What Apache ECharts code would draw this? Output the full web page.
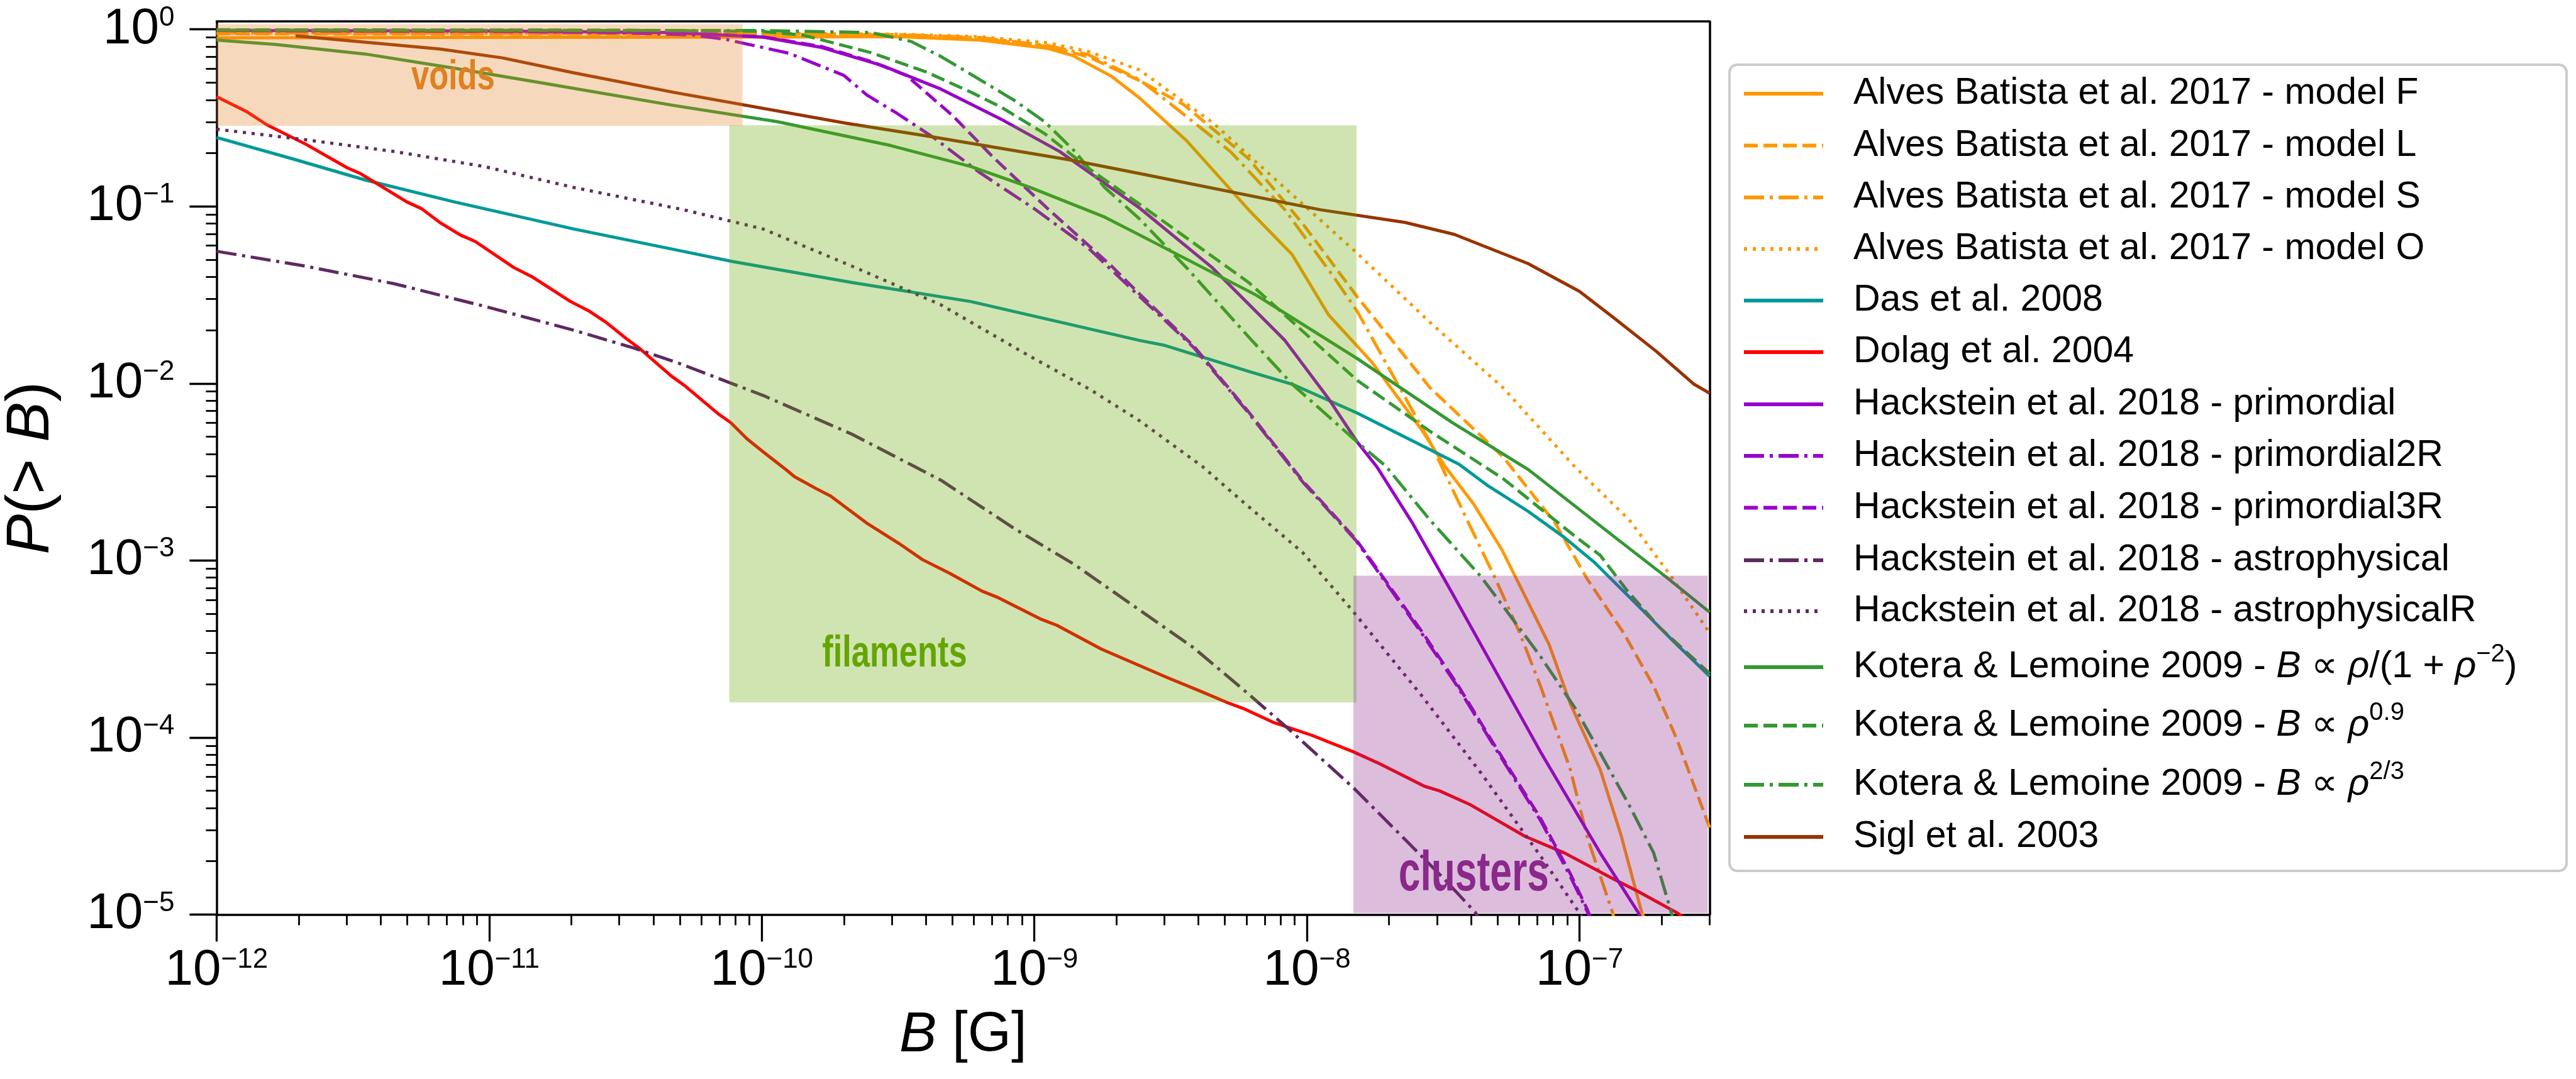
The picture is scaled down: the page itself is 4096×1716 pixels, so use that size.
<!DOCTYPE html>
<html><head><meta charset="utf-8">
<script src="https://cdn.jsdelivr.net/npm/echarts@6/dist/echarts.min.js"></script>
<style>html,body{margin:0;padding:0;background:#fff}#c{width:4096px;height:1716px}</style>
</head><body><div id="c"></div>
<script>
// ---------------- data (B in gauss, P(>B)) ----------------
const alvesF_B = [1e-12, 1e-11, 1e-10, 3.16e-10, 6.31e-10, 1.12e-9, 1.38e-9, 1.92e-9, 2.43e-9, 3.62e-9, 6.11e-9, 8.81e-9, 1.20e-8, 1.73e-8, 2.66e-8, 3.21e-8, 4.09e-8, 5.19e-8, 7.74e-8, 9.25e-8, 1.19e-7, 1.42e-7, 1.69e-7, 1.82e-7];
const alvesF_P = [0.895, 0.9, 0.905, 0.91, 0.87, 0.78, 0.713, 0.543, 0.41, 0.235, 0.0957, 0.0536, 0.0244, 0.0132, 0.00536, 0.0034, 0.00208, 0.00115, 3.34e-4, 1.55e-4, 6.6e-5, 2.8e-5, 1.03e-5, 8e-6];
const alvesL_B = [1e-12, 1e-11, 1e-10, 3.16e-10, 6.31e-10, 1.12e-9, 1.58e-9, 2.43e-9, 3.52e-9, 6.11e-9, 9.68e-9, 1.53e-8, 2.83e-8, 5.24e-8, 8.13e-8, 1.07e-7, 1.45e-7, 1.87e-7, 2.28e-7, 3.0e-7];
const alvesL_P = [0.945, 0.94, 0.94, 0.93, 0.89, 0.8, 0.7, 0.513, 0.377, 0.186, 0.0793, 0.0308, 0.00945, 0.00385, 0.00163, 7.8e-4, 3.9e-4, 1.95e-4, 9.7e-5, 3.1e-5];
const alvesS_B = [1e-12, 1e-11, 1e-10, 3.16e-10, 6.31e-10, 1.12e-9, 1.58e-9, 2.43e-9, 3.30e-9, 5.24e-9, 8.30e-9, 1.24e-8, 1.53e-8, 2.08e-8, 2.83e-8, 3.85e-8, 4.93e-8, 6.03e-8, 7.19e-8, 9.25e-8, 1.07e-7, 1.32e-7, 1.38e-7];
const alvesS_P = [0.955, 0.95, 0.945, 0.935, 0.9, 0.81, 0.72, 0.52, 0.36, 0.204, 0.0957, 0.0409, 0.0255, 0.0109, 0.00466, 0.00172, 7.8e-4, 3.9e-4, 1.95e-4, 6.6e-5, 2.7e-5, 1.03e-5, 8e-6];
const alvesO_B = [1e-12, 1e-11, 1e-10, 3.16e-10, 6.31e-10, 1.12e-9, 1.58e-9, 2.43e-9, 4.50e-9, 8.30e-9, 1.53e-8, 2.83e-8, 5.24e-8, 9.68e-8, 1.52e-7, 2.17e-7, 3.0e-7];
const alvesO_P = [0.96, 0.955, 0.95, 0.94, 0.91, 0.84, 0.75, 0.59, 0.298, 0.127, 0.0543, 0.0221, 0.00945, 0.00334, 0.0017, 8.1e-4, 3.9e-4];
const das_B = [1e-12, 1.87e-12, 3.51e-12, 7.45e-12, 2.04e-11, 5.13e-11, 7.83e-11, 2.14e-10, 5.85e-10, 2.43e-9, 3.01e-9, 6.11e-9, 8.83e-9, 1.53e-8, 3.61e-8, 4.62e-8, 6.49e-8, 8.79e-8, 1.13e-7, 1.69e-7, 2.22e-7, 3.0e-7];
const das_P = [0.245, 0.187, 0.141, 0.106, 0.0746, 0.0558, 0.0488, 0.0372, 0.029, 0.0175, 0.0164, 0.0117, 0.0099, 0.0068, 0.0035, 0.00264, 0.00189, 0.00135, 9.8e-4, 5.3e-4, 3.47e-4, 2.22e-4];
const dolag_B = [1e-12, 1.285e-12, 1.53e-12, 2.12e-12, 3.02e-12, 3.38e-12, 4.99e-12, 5.65e-12, 6.58e-12, 7.83e-12, 8.89e-12, 1.23e-11, 1.43e-11, 1.99e-11, 2.31e-11, 2.69e-11, 3.20e-11, 3.54e-11, 4.66e-11, 5.25e-11, 6.90e-11, 7.69e-11, 8.83e-11, 1.03e-10, 1.23e-10, 1.32e-10, 1.58e-10, 1.79e-10, 2.42e-10, 3.18e-10, 3.89e-10, 4.89e-10, 6.43e-10, 7.29e-10, 1.06e-9, 1.21e-9, 1.76e-9, 3.05e-9, 4.02e-9, 5.18e-9, 5.83e-9, 7.50e-9, 1.04e-8, 1.48e-8, 1.85e-8, 2.70e-8, 3.06e-8, 3.94e-8, 6.32e-8, 8.79e-8, 1.32e-7, 1.64e-7, 2.31e-7, 2.51e-7];
const dolag_P = [0.417, 0.344, 0.289, 0.225, 0.165, 0.153, 0.106, 0.0971, 0.0813, 0.069, 0.0634, 0.0452, 0.0402, 0.029, 0.0258, 0.0221, 0.0178, 0.0159, 0.011, 0.00964, 0.00676, 0.00601, 0.00486, 0.00402, 0.00325, 0.00297, 0.00255, 0.00231, 0.00163, 0.00125, 0.00101, 8.46e-4, 6.71e-4, 6.21e-4, 4.65e-4, 4.3e-4, 3.16e-4, 2.19e-4, 1.84e-4, 1.56e-4, 1.46e-4, 1.22e-4, 1.03e-4, 8.3e-5, 7.1e-5, 5.3e-5, 5.0e-5, 4.2e-5, 2.76e-5, 2.23e-5, 1.6e-5, 1.35e-5, 1.01e-5, 9e-6];
const hPrim_B = [1e-12, 1e-11, 4.74e-11, 1.01e-10, 1.66e-10, 2.75e-10, 4.54e-10, 7.52e-10, 1.24e-9, 2.43e-9, 4.50e-9, 8.30e-9, 1.20e-8, 1.53e-8, 1.80e-8, 2.43e-8, 3.38e-8, 7.19e-8, 1.19e-7, 1.64e-7, 1.74e-7];
const hPrim_P = [0.985, 0.98, 0.959, 0.904, 0.79, 0.627, 0.46, 0.312, 0.204, 0.098, 0.045, 0.0175, 0.0082, 0.00466, 0.0034, 0.00164, 6.7e-4, 8.3e-5, 2.23e-5, 1.03e-5, 8.5e-6];
const hPrim2R_B = [1e-12, 1e-11, 3.16e-11, 5.62e-11, 7.35e-11, 1.26e-10, 2.0e-10, 2.43e-10, 3.12e-10, 4.22e-10, 6.31e-10, 1e-9, 1.58e-9, 2.43e-9, 3.85e-9, 6.11e-9, 9.68e-9, 1.51e-8, 2.63e-8, 3.56e-8, 4.93e-8, 7.19e-8, 9.25e-8, 1.07e-7, 1.12e-7];
const hPrim2R_P = [0.985, 0.975, 0.955, 0.93, 0.879, 0.733, 0.55, 0.426, 0.337, 0.248, 0.155, 0.097, 0.058, 0.031, 0.0159, 0.0068, 0.00276, 0.0013, 3.9e-4, 1.95e-4, 8.6e-5, 3.4e-5, 1.64e-5, 1.03e-5, 8.5e-6];
const hPrim3R_B = [1e-12, 1e-11, 4.74e-11, 1e-10, 1.66e-10, 2.51e-10, 3.39e-10, 5.01e-10, 7.05e-10, 1.12e-9, 1.92e-9, 2.43e-9, 3.85e-9, 6.11e-9, 9.68e-9, 1.51e-8, 2.63e-8, 3.56e-8, 4.93e-8, 7.19e-8, 9.25e-8, 1.07e-7, 1.12e-7];
const hPrim3R_P = [0.99, 0.98, 0.96, 0.91, 0.8, 0.66, 0.55, 0.326, 0.19, 0.097, 0.046, 0.032, 0.0162, 0.0069, 0.0028, 0.00132, 4.0e-4, 2.0e-4, 8.8e-5, 3.5e-5, 1.7e-5, 1.06e-5, 8.8e-6];
const hAstro_B = [1e-12, 2.12e-12, 4.51e-12, 9.59e-12, 2.04e-11, 3.37e-11, 4.90e-11, 1.01e-10, 2.14e-10, 4.54e-10, 8.47e-10, 1.40e-9, 2.32e-9, 3.83e-9, 5.83e-9, 8.49e-9, 1.48e-8, 2.32e-8, 3.21e-8, 4.14e-8, 4.37e-8];
const hAstro_P = [0.0558, 0.046, 0.0365, 0.0273, 0.02, 0.0159, 0.0131, 0.00856, 0.00517, 0.00284, 0.00151, 9.5e-4, 5.52e-4, 3.22e-4, 1.87e-4, 1.13e-4, 5.2e-5, 2.6e-5, 1.57e-5, 1.03e-5, 9e-6];
const hAstroR_B = [1e-12, 2.12e-12, 4.51e-12, 9.59e-12, 2.04e-11, 5.13e-11, 1.01e-10, 2.14e-10, 4.54e-10, 9.66e-10, 1.60e-9, 2.43e-9, 4.13e-9, 5.83e-9, 9.64e-9, 1.48e-8, 2.63e-8, 4.35e-8, 7.19e-8, 9.95e-8, 1.05e-7];
const hAstroR_P = [0.273, 0.238, 0.204, 0.168, 0.128, 0.096, 0.0746, 0.046, 0.0278, 0.0142, 0.00925, 0.00616, 0.0034, 0.00214, 0.00111, 5.13e-4, 1.73e-4, 6.3e-5, 2.14e-5, 1.03e-5, 9e-6];
const kotA_B = [1e-12, 1.65e-12, 3.51e-12, 7.45e-12, 1.58e-11, 4.74e-11, 1.14e-10, 2.96e-10, 5.85e-10, 9.66e-10, 1.81e-9, 2.43e-9, 6.50e-9, 1.53e-8, 3.40e-8, 6.49e-8, 1.35e-7, 2.07e-7, 3.0e-7];
const kotA_P = [0.87, 0.821, 0.726, 0.603, 0.497, 0.372, 0.301, 0.221, 0.168, 0.128, 0.0871, 0.069, 0.0316, 0.0138, 0.00603, 0.00326, 0.00135, 8.1e-4, 5.1e-4];
const kotB_B = [1e-12, 3.16e-11, 1e-10, 1.41e-10, 2.51e-10, 4.01e-10, 5.85e-10, 7.52e-10, 1.09e-9, 1.60e-9, 2.43e-9, 6.11e-9, 1.53e-8, 2.83e-8, 5.24e-8, 9.68e-8, 1.19e-7, 1.49e-7, 1.96e-7, 3.0e-7];
const kotB_P = [0.995, 0.99, 0.975, 0.93, 0.74, 0.575, 0.442, 0.365, 0.258, 0.162, 0.103, 0.0372, 0.0104, 0.00536, 0.0029, 0.00136, 0.00107, 6.8e-4, 4.2e-4, 2.3e-4];
const kotC_B = [1e-12, 1e-10, 2.51e-10, 3.53e-10, 4.54e-10, 5.85e-10, 8.51e-10, 1.09e-9, 1.41e-9, 1.81e-9, 2.43e-9, 3.62e-9, 6.11e-9, 8.83e-9, 1.53e-8, 1.95e-8, 2.82e-8, 4.35e-8, 7.19e-8, 9.73e-8, 1.52e-7, 1.87e-7, 2.17e-7, 2.24e-7];
const kotC_P = [0.99, 0.985, 0.96, 0.855, 0.703, 0.558, 0.394, 0.301, 0.204, 0.128, 0.085, 0.045, 0.0183, 0.0099, 0.00466, 0.0034, 0.0017, 8.1e-4, 2.87e-4, 1.43e-4, 4.15e-5, 2.23e-5, 1.03e-5, 8.5e-6];
const sigl_B = [1.95e-12, 6.61e-12, 1.12e-11, 2.04e-11, 4.79e-11, 2.04e-10, 4.17e-10, 1.38e-9, 2.45e-9, 1.12e-8, 2.29e-8, 3.47e-8, 6.46e-8, 1e-7, 1.32e-7, 1.91e-7, 2.63e-7, 3.0e-7];
const sigl_P = [0.92, 0.775, 0.69, 0.569, 0.44, 0.295, 0.248, 0.182, 0.153, 0.0957, 0.0812, 0.0695, 0.0476, 0.0331, 0.0238, 0.0152, 0.0099, 0.0088];

const seriesNames = [
  'Alves Batista et al. 2017 - model F', 'Alves Batista et al. 2017 - model L',
  'Alves Batista et al. 2017 - model S', 'Alves Batista et al. 2017 - model O',
  'Das et al. 2008', 'Dolag et al. 2004',
  'Hackstein et al. 2018 - primordial', 'Hackstein et al. 2018 - primordial2R',
  'Hackstein et al. 2018 - primordial3R', 'Hackstein et al. 2018 - astrophysical',
  'Hackstein et al. 2018 - astrophysicalR',
  'Kotera & Lemoine 2009 - B ∝ ρ/(1 + ρ^−2)', 'Kotera & Lemoine 2009 - B ∝ ρ^0.9',
  'Kotera & Lemoine 2009 - B ∝ ρ^2/3', 'Sigl et al. 2003'
];
const seriesB = [alvesF_B, alvesL_B, alvesS_B, alvesO_B, das_B, dolag_B, hPrim_B, hPrim2R_B, hPrim3R_B, hAstro_B, hAstroR_B, kotA_B, kotB_B, kotC_B, sigl_B];
const seriesP = [alvesF_P, alvesL_P, alvesS_P, alvesO_P, das_P, dolag_P, hPrim_P, hPrim2R_P, hPrim3R_P, hAstro_P, hAstroR_P, kotA_P, kotB_P, kotC_P, sigl_P];

// regions: [Bmin, Bmax, Pmin, Pmax]
const regionNames = ['voids', 'filaments', 'clusters'];
const regionBmin = [1e-12, 7.6e-11, 1.48e-8];
const regionBmax = [8.5e-11, 1.52e-8, 2.95e-7];
const regionPmin = [0.285, 1.58e-4, 1.02e-5];
const regionPmax = [1.07, 0.287, 8.2e-4];
const regionLabelB = [7.37e-12, 3.07e-10, 4.09e-8];
const regionLabelP = [0.442, 2.41e-4, 1.30e-5];

const xMajorTicks = [1e-12, 1e-11, 1e-10, 1e-9, 1e-8, 1e-7];
const xMinorTicks = [2e-12,3e-12,4e-12,5e-12,6e-12,7e-12,8e-12,9e-12, 2e-11,3e-11,4e-11,5e-11,6e-11,7e-11,8e-11,9e-11, 2e-10,3e-10,4e-10,5e-10,6e-10,7e-10,8e-10,9e-10, 2e-9,3e-9,4e-9,5e-9,6e-9,7e-9,8e-9,9e-9, 2e-8,3e-8,4e-8,5e-8,6e-8,7e-8,8e-8,9e-8, 2e-7,3e-7];
const yMajorTicks = [1e-5, 1e-4, 1e-3, 1e-2, 1e-1, 1];
const yMinorTicks = [2e-5,3e-5,4e-5,5e-5,6e-5,7e-5,8e-5,9e-5, 2e-4,3e-4,4e-4,5e-4,6e-4,7e-4,8e-4,9e-4, 2e-3,3e-3,4e-3,5e-3,6e-3,7e-3,8e-3,9e-3, 2e-2,3e-2,4e-2,5e-2,6e-2,7e-2,8e-2,9e-2, 0.2,0.3,0.4,0.5,0.6,0.7,0.8,0.9];

// ---------------- styles ----------------
const FONT = "'Liberation Sans', Arial, sans-serif";
const COL = { orange:'#ff9900', teal:'#009999', red:'#ff0000', violet:'#9900cc', plum:'#5e2a60', green:'#339933', brown:'#993300' };
const DASH = [22, 9], DASHDOT = [32, 9, 5, 9], DOT = [5, 9];
const seriesColor = [COL.orange, COL.orange, COL.orange, COL.orange, COL.teal, COL.red, COL.violet, COL.violet, COL.violet, COL.plum, COL.plum, COL.green, COL.green, COL.green, COL.brown];
const seriesDash = ['solid', DASH, DASHDOT, DOT, 'solid', 'solid', 'solid', DASHDOT, DASH, DASHDOT, DOT, 'solid', DASH, DASHDOT, 'solid'];
const regionFill = ['rgba(224,128,32,0.3)', 'rgba(100,166,0,0.3)', 'rgba(139,40,139,0.3)'];
const regionText = ['#e08020', '#64a600', '#8b288b'];
const regionFont = [66, 70, 89];
const regionScaleX = [0.77, 0.75, 0.70];
const LW = 5;
const legendRowY = [149, 231.5, 314, 396, 478, 560, 643, 725, 807.5, 891, 972, 1061, 1154, 1248, 1331];

function zip(b, p) { const n = Math.min(b.length, p.length); const out = []; for (let i = 0; i < n; i++) out.push([b[i], p[i]]); return out; }
const SUPMINUS = '\u2212';
function powLabel(v) { const e = Math.round(Math.log10(v)); return '{b|10}{s|' + (e < 0 ? SUPMINUS : '') + Math.abs(e) + '}'; }
const tickRich = {
  b: { fontSize: 80, fontFamily: FONT, lineHeight: 80, verticalAlign: 'middle', color: '#000' },
  s: { fontSize: 44, fontFamily: FONT, lineHeight: 48, verticalAlign: 'top', color: '#000' }
};
const legendRich = {
  g: { width: 43, fontSize: 59, lineHeight: 80 },
  t: { fontSize: 59, fontFamily: FONT, lineHeight: 80, verticalAlign: 'middle', color: '#000' },
  i: { fontSize: 59, fontFamily: FONT, fontStyle: 'italic', lineHeight: 80, verticalAlign: 'middle', color: '#000' },
  s: { fontSize: 40, fontFamily: FONT, lineHeight: 52, verticalAlign: 'top', color: '#000' }
};
const legendMath = {};
legendMath[seriesNames[11]] = '{t|Kotera & Lemoine 2009 - }{i|B}{t| ∝ }{i|ρ}{t|/(1 + }{i|ρ}{s|−2}{t|)}';
legendMath[seriesNames[12]] = '{t|Kotera & Lemoine 2009 - }{i|B}{t| ∝ }{i|ρ}{s|0.9}';
legendMath[seriesNames[13]] = '{t|Kotera & Lemoine 2009 - }{i|B}{t| ∝ }{i|ρ}{s|2/3}';
function legendFmt(name) { return '{g| }' + (legendMath[name] || ('{t|' + name + '}')); }

const series = seriesNames.map((name, i) => ({
  type: 'line', name: name, data: zip(seriesB[i], seriesP[i]),
  symbol: 'none', showSymbol: false, clip: true, silent: true, legendHoverLink: false,
  lineStyle: { color: seriesColor[i], width: LW, type: seriesDash[i], cap: 'butt', join: 'round' },
  itemStyle: { color: seriesColor[i] }, emphasis: { disabled: true }, z: 2
}));
series.push({
  type: 'custom', name: 'regions', silent: true, z: 5, clip: true,
  data: regionNames.map((n, i) => [regionBmin[i], regionBmax[i], regionPmin[i], regionPmax[i]]),
  encode: { x: [0, 1], y: [2, 3] },
  renderItem: function (params, api) {
    const p0 = api.coord([api.value(0), api.value(3)]);
    const p1 = api.coord([api.value(1), api.value(2)]);
    return { type: 'rect', shape: { x: p0[0], y: p0[1], width: p1[0] - p0[0], height: p1[1] - p0[1] },
             style: { fill: regionFill[params.dataIndex] } };
  }
});

const legends = seriesNames.map((name, i) => ({
  show: true, data: [name], left: 2770, top: legendRowY[i] - 40, orient: 'horizontal',
  padding: 0, itemGap: 0, itemWidth: 126, itemHeight: 80, selectedMode: false,
  itemStyle: { opacity: 0 }, lineStyle: { width: 6 }, formatter: legendFmt,
  textStyle: { fontSize: 59, fontFamily: FONT, color: '#000', lineHeight: 80, rich: legendRich }
}));

const axisLineStyle = { color: '#000', width: 3.5 };
const option = {
  animation: false,
  backgroundColor: '#fff',
  grid: { left: 344.4, right: 1377.6, top: 34.2, bottom: 261.6, containLabel: false, outerBoundsMode: 'none' },
  xAxis: [
    { type: 'log', logBase: 10, min: 1e-12, max: 3e-7, position: 'bottom',
      axisLine: { show: true, onZero: false, lineStyle: axisLineStyle },
      axisTick: { show: true, inside: false, length: 43, lineStyle: { color: '#000', width: 3.3 }, customValues: xMajorTicks },
      axisLabel: { show: true, margin: 50, customValues: xMajorTicks, formatter: powLabel, rich: tickRich, color: '#000' },
      splitLine: { show: false }, minorTick: { show: false },
      name: '{i|B} [G]', nameLocation: 'middle', nameGap: 148, nameMoveOverlap: false,
      nameTextStyle: { fontSize: 89, fontFamily: FONT, color: '#000', lineHeight: 89,
        rich: { i: { fontSize: 89, fontFamily: FONT, fontStyle: 'italic', lineHeight: 89, color: '#000' } } } },
    { type: 'log', logBase: 10, min: 1e-12, max: 3e-7, position: 'bottom',
      axisLine: { show: false, onZero: false },
      axisTick: { show: true, inside: false, length: 17, lineStyle: { color: '#000', width: 2.8 }, customValues: xMinorTicks },
      axisLabel: { show: false }, splitLine: { show: false } },
    { type: 'log', logBase: 10, min: 1e-12, max: 3e-7, position: 'top',
      axisLine: { show: true, onZero: false, lineStyle: axisLineStyle },
      axisTick: { show: false }, axisLabel: { show: false }, splitLine: { show: false } }
  ],
  yAxis: [
    { type: 'log', logBase: 10, min: 1e-5, max: 1.108, position: 'left',
      axisLine: { show: true, onZero: false, lineStyle: axisLineStyle },
      axisTick: { show: true, inside: false, length: 43, lineStyle: { color: '#000', width: 3.3 }, customValues: yMajorTicks },
      axisLabel: { show: true, margin: 67, customValues: yMajorTicks, formatter: powLabel, rich: tickRich, color: '#000' },
      splitLine: { show: false }, minorTick: { show: false },
      name: '{i|P}(> {i|B})', nameLocation: 'middle', nameGap: 246, nameMoveOverlap: false,
      nameTextStyle: { fontSize: 96, fontFamily: FONT, color: '#000', lineHeight: 96,
        rich: { i: { fontSize: 96, fontFamily: FONT, fontStyle: 'italic', lineHeight: 96, color: '#000' } } } },
    { type: 'log', logBase: 10, min: 1e-5, max: 1.108, position: 'left',
      axisLine: { show: false, onZero: false },
      axisTick: { show: true, inside: false, length: 17, lineStyle: { color: '#000', width: 2.8 }, customValues: yMinorTicks },
      axisLabel: { show: false }, splitLine: { show: false } },
    { type: 'log', logBase: 10, min: 1e-5, max: 1.108, position: 'right',
      axisLine: { show: true, onZero: false, lineStyle: axisLineStyle },
      axisTick: { show: false }, axisLabel: { show: false }, splitLine: { show: false } }
  ],
  legend: legends,
  graphic: [
    { type: 'rect', id: 'legendBox', z: 1, silent: true,
      shape: { x: 2750, y: 103, width: 1331, height: 1282, r: 12 },
      style: { fill: 'rgba(255,255,255,0.8)', stroke: '#cccccc', lineWidth: 4 } }
  ],
  series: series
};

const chart = echarts.init(document.getElementById('c'), null, { renderer: 'canvas', width: 4096, height: 1716 });
chart.setOption(option);

// region labels placed at data coordinates through the chart's own scales
const labelGraphics = regionNames.map((n, i) => {
  const p = chart.convertToPixel({ xAxisIndex: 0, yAxisIndex: 0 }, [regionLabelB[i], regionLabelP[i]]);
  const fs = regionFont[i];
  const st = { text: n, fill: regionText[i], fontSize: fs, fontWeight: 'bold',
               fontFamily: "'Liberation Sans', sans-serif",
               align: 'center', verticalAlign: 'middle' };
  if (i === 2) { st.shadowColor = 'rgba(255,255,255,0.9)'; st.shadowBlur = 8; }
  return { type: 'text', id: 'lbl_' + n, z: 50, silent: true, x: p[0], y: p[1] - 0.35 * fs,
           scaleX: regionScaleX[i], style: st };
});
chart.setOption({ graphic: [option.graphic[0]].concat(labelGraphics) });
</script></body></html>
